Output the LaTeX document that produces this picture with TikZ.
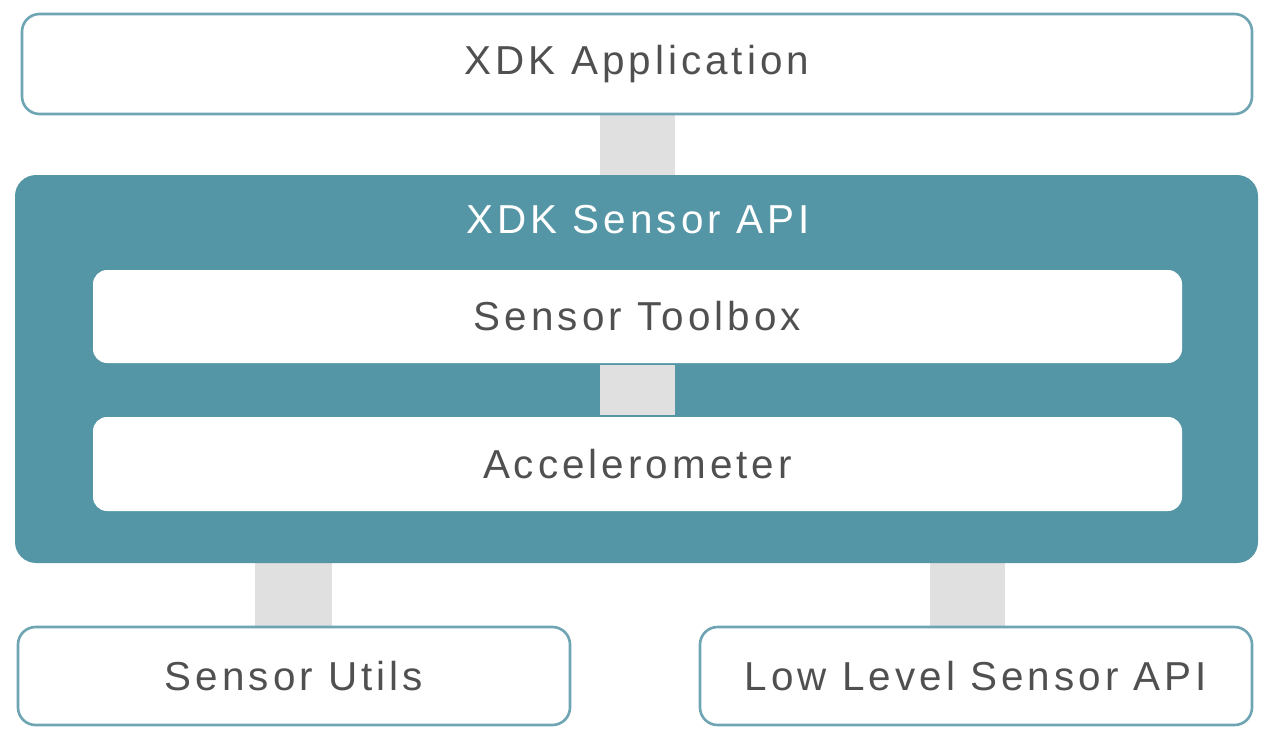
\documentclass[tikz,border=0pt]{standalone}
\usepackage{fontspec}
\setmainfont{Liberation Sans}[LetterSpace=10]
\definecolor{teal}{HTML}{5596A6}
\definecolor{edge}{HTML}{6FA5B3}
\definecolor{link}{HTML}{E0E0E0}
\definecolor{txt}{HTML}{505050}
\begin{document}
\begin{tikzpicture}[x=0.02cm, y=-0.02cm,
  box/.style = {draw=edge, line width=1.5pt, fill=white, rounded corners=10pt,
                text=txt, font=\fontsize{23}{28}\selectfont},
  inner/.style = {fill=white, rounded corners=8pt, text=txt,
                font=\fontsize{23}{28}\selectfont},
  link/.style = {fill=link, draw=none}]
\useasboundingbox (0,0) rectangle (1270,740);
% links behind the boxes
\fill[link] (600,110) rectangle (675,180);
\fill[link] (255,560) rectangle (332,630);
\fill[link] (930,560) rectangle (1005,630);
% sensor api
\fill[teal, rounded corners=12pt] (15,175) rectangle (1258,563);
\fill[link] (600,365) rectangle (675,415);
\node[text=white, font=\fontsize{23}{28}\selectfont] (api) at (638,220) {XDK Sensor API};
\node[inner, minimum width=1089*0.02cm, minimum height=93*0.02cm] (tool) at (637.5,316.5) {Sensor Toolbox};
\node[inner, minimum width=1089*0.02cm, minimum height=94*0.02cm] (acc) at (637.5,464) {Accelerometer};
% outer boxes
\node[box, minimum width=1230*0.02cm, minimum height=100*0.02cm] (app) at (637,64) {XDK Application};
\node[box, minimum width=552*0.02cm, minimum height=98*0.02cm] (utils) at (294,676) {Sensor Utils};
\node[box, minimum width=552*0.02cm, minimum height=98*0.02cm] (low) at (976,676) {Low Level Sensor API};
\end{tikzpicture}
\end{document}
